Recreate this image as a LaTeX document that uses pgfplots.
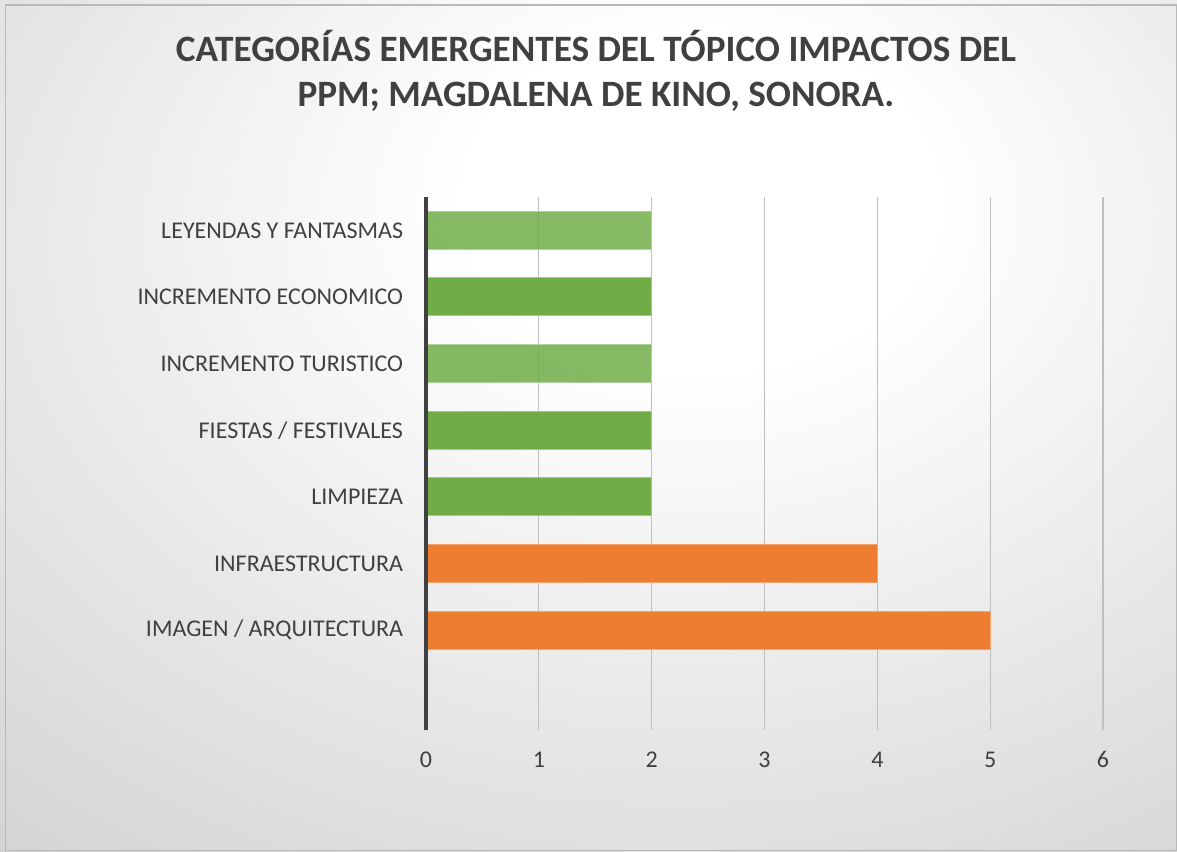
\documentclass[border=0pt]{standalone}
\usepackage{pgfplots}
\pgfplotsset{compat=1.18}
\usepackage{fontspec}
\setmainfont{Carlito}
\definecolor{txt}{HTML}{404040}
\definecolor{orangeb}{HTML}{ED7D31}
\definecolor{greenb}{HTML}{70AD47}
\definecolor{gridc}{HTML}{BFBFBF}
\definecolor{bggray}{HTML}{C4C4C4}
\pgfdeclareradialshading{bgshade}{\pgfpoint{5.3bp}{14.7bp}}{color(0bp)=(white); color(10bp)=(white); color(56bp)=(bggray); color(100bp)=(bggray)}
\begin{document}
\begin{tikzpicture}
\useasboundingbox (0,0) rectangle (882.75pt,638.25pt);
\shade[shading=bgshade] (0,0) rectangle (882.75pt,638.25pt);
\draw[gray!55, line width=0.8pt] (4pt,0.5pt) rectangle (882.25pt,634.5pt);
\node[anchor=base, font=\fontsize{27.9}{32}\selectfont\bfseries, text=txt, inner sep=0pt] at (447pt,591.75pt) {CATEGORÍAS EMERGENTES DEL TÓPICO IMPACTOS DEL};
\node[anchor=base, font=\fontsize{27.9}{32}\selectfont\bfseries, text=txt, inner sep=0pt] at (447pt,558pt) {PPM; MAGDALENA DE KINO, SONORA.};
\begin{axis}[
  at={(319.5pt,90.75pt)}, anchor=south west,
  scale only axis, width=507.75pt, height=399.75pt,
  clip=false,
  xmin=0, xmax=6, ymin=-0.5, ymax=7.5,
  xtick={0,1,2,3,4,5,6},
  ytick={1,2,3,4,5,6,7},
  yticklabels={IMAGEN / ARQUITECTURA, INFRAESTRUCTURA, LIMPIEZA, FIESTAS / FESTIVALES, INCREMENTO TURISTICO, INCREMENTO ECONOMICO, LEYENDAS Y FANTASMAS},
  major tick length=0pt,
  xmajorgrids, major grid style={gridc, line width=0.9pt},
  axis x line*=bottom,
  axis y line*=left,
  x axis line style={draw=none},
  y axis line style={draw=none},
  /pgf/number format/assume math mode=true,
  yticklabel style={font=\fontsize{18}{21}\selectfont, text=txt, anchor=east, inner sep=0pt, xshift=-17pt},
  xticklabel style={font=\fontsize{18}{21}\selectfont, text=txt, anchor=north, inner sep=0pt, yshift=-16pt},
  xbar, bar width=0.57, bar shift=0pt,
]
\addplot[fill=orangeb, draw=orangeb!70!white, line width=0.8pt] coordinates {(5,1) (4,2)};
\addplot[fill=greenb, draw=greenb!65!white, line width=0.8pt] coordinates {(2,3) (2,4) (2,6)};
\addplot[fill=greenb, fill opacity=0.85, draw=greenb!55!white, line width=0.8pt] coordinates {(2,5) (2,7)};
\draw[txt, line width=2.6pt] (axis cs:0,-0.5) -- (axis cs:0,7.5);
\end{axis}
\end{tikzpicture}
\end{document}
